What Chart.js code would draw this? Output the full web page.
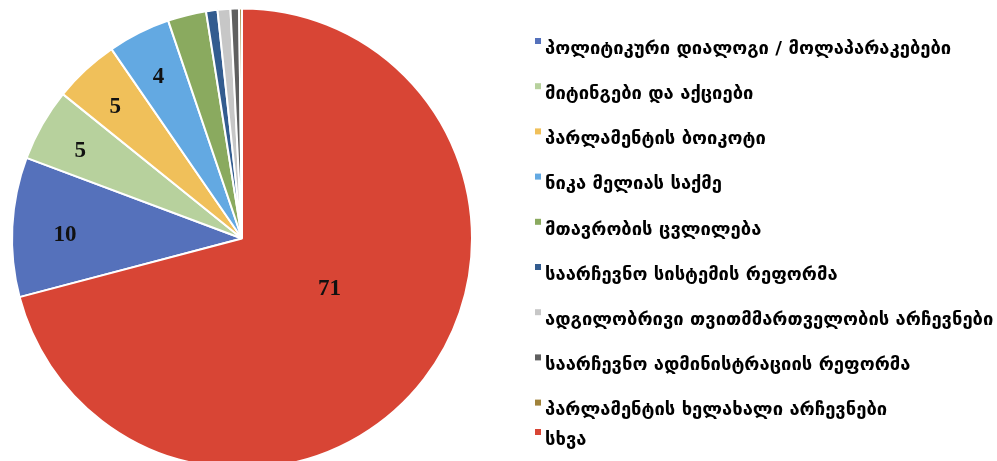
<!DOCTYPE html>
<html>
<head>
<meta charset="utf-8">
<script src="https://cdn.jsdelivr.net/npm/chart.js@4"></script>
<style>
  html, body { margin: 0; padding: 0; background: #fff; overflow: hidden; }
  #wrap { width: 997px; height: 470px; }
</style>
</head>
<body>
<div id="wrap"><canvas id="pie" width="997" height="470"></canvas></div>
<script>
var labels = [
    'პოლიტიკური დიალოგი / მოლაპარაკებები',
    'მიტინგები და აქციები',
    'პარლამენტის ბოიკოტი',
    'ნიკა მელიას საქმე',
    'მთავრობის ცვლილება',
    'საარჩევნო სისტემის რეფორმა',
    'ადგილობრივი თვითმმართველობის არჩევნები',
    'საარჩევნო ადმინისტრაციის რეფორმა',
    'პარლამენტის ხელახალი არჩევნები',
    'სხვა'
];
var values = [9.8, 5.1, 4.6, 4.4, 2.7, 0.8, 0.9, 0.6, 0.2, 70.9];
var colors = ['#5571bb', '#b7d19d', '#f0c05a', '#63a9e2', '#8aaa5f',
              '#335c8f', '#c7c7c7', '#5f5f5f', '#a0823a', '#d84535'];

var total = values.reduce(function (a, b) { return a + b; }, 0);
// "სხვა" starts at 12 o'clock, the rest follow it clockwise
var startAngle = 360 * values[values.length - 1] / total;

// value labels inside the slices
var sliceLabels = {
    id: 'sliceLabels',
    afterDatasetsDraw(chart) {
        var ctx = chart.ctx;
        var meta = chart.getDatasetMeta(0);
        ctx.save();
        ctx.font = 'bold 23px "Liberation Serif"';
        ctx.fillStyle = '#111';
        ctx.textAlign = 'center';
        ctx.textBaseline = 'middle';
        meta.data.forEach(function (arc, i) {
            var v = values[i];
            if (v < 3.5) { return; }
            var p = arc.getProps(['x', 'y', 'startAngle', 'endAngle', 'outerRadius'], true);
            var mid = (p.startAngle + p.endAngle) / 2;
            var big = v > 50;
            if (big) { mid -= 0.13; }
            var r = p.outerRadius * (big ? 0.44 : (v > 8 ? 0.77 : 0.81));
            ctx.fillText(Math.round(v), p.x + Math.cos(mid) * r, p.y + Math.sin(mid) * r + (big ? 0 : 5));
        });
        ctx.restore();
    }
};

// legend on the right, small square markers sitting high beside the text
var sideLegend = {
    id: 'sideLegend',
    afterDraw(chart) {
        var ctx = chart.ctx;
        ctx.save();
        ctx.font = 'bold 18.4px "DejaVu Sans"';
        ctx.textBaseline = 'middle';
        ctx.textAlign = 'left';
        chart.data.labels.forEach(function (txt, i) {
            var y = i < 9 ? 49 + i * 45.2 : 440;
            ctx.fillStyle = colors[i];
            ctx.fillRect(535, y - 11, 6, 6);
            ctx.fillStyle = '#000';
            ctx.fillText(txt, 545, y);
        });
        ctx.restore();
    }
};

var ctx = document.getElementById('pie').getContext('2d');
var myChart = new Chart(ctx, {
    type: 'pie',
    data: {
        labels: labels,
        datasets: [{
            data: values,
            backgroundColor: colors,
            borderColor: '#ffffff',
            borderWidth: 2
        }]
    },
    options: {
        responsive: false,
        animation: false,
        rotation: startAngle,
        layout: { padding: { left: 11, top: 7, right: 524, bottom: 0 } },
        plugins: {
            legend: { display: false },
            tooltip: { enabled: false }
        }
    },
    plugins: [sliceLabels, sideLegend]
});
</script>
</body>
</html>
